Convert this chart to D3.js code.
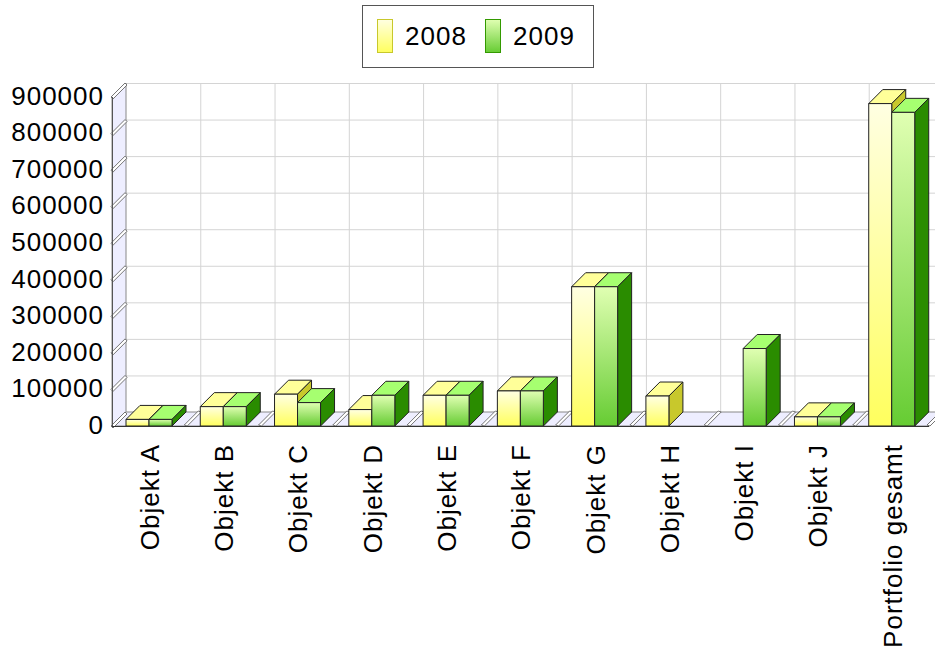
<!DOCTYPE html>
<html>
<head>
<meta charset="utf-8">
<script src="https://cdn.jsdelivr.net/npm/d3@7"></script>
<style>
  html, body { margin: 0; padding: 0; background: #fff; }
  svg { display: block; }
  text { font-family: "Liberation Sans", Arial, sans-serif; font-size: 26px; letter-spacing: 1px; fill: #000; }
</style>
</head>
<body>
<svg id="chart" width="935" height="650"></svg>
<script>
const categories = ["Objekt A", "Objekt B", "Objekt C", "Objekt D", "Objekt E", "Objekt F", "Objekt G", "Objekt H", "Objekt I", "Objekt J", "Portfolio gesamt"];
const values2008 = [18000, 53000, 87000, 45000, 84000, 96000, 381000, 82000, 0, 25000, 882000];
const values2009 = [18000, 53000, 64000, 84000, 84000, 96000, 381000, 0, 212000, 25000, 858000];
const seriesNames = ["2008", "2009"];
const yTicks = [0, 100000, 200000, 300000, 400000, 500000, 600000, 700000, 800000, 900000];

(function () {
const svg = d3.select("#chart");
const W = 935, H = 650;
const D = 14;                 // 3D depth offset
const pLeft = 112, pRight = 929, pBottom = 426, pTop = 97;

const x = d3.scaleBand().domain(categories).range([pLeft, pRight]);
const y = d3.scaleLinear().domain([0, 900000]).range([pBottom, pTop]);
const bw = x.bandwidth();
const barW = 23, barPad = 14;

const defs = svg.append("defs");
function grad(id, c0, c1) {
  const g = defs.append("linearGradient").attr("id", id).attr("x1", 0).attr("y1", 0).attr("x2", 0).attr("y2", 1);
  g.append("stop").attr("offset", "0%").attr("stop-color", c0);
  g.append("stop").attr("offset", "100%").attr("stop-color", c1);
}
grad("g2008", "#ffffe2", "#ffff5e");
grad("g2009", "#e0ffb2", "#66cc33");
const styles = [
  { front: "url(#g2008)", top: "#ffff99", side: "#c8c82c", swStroke: "#c8c82c" },
  { front: "url(#g2009)", top: "#a6ff70", side: "#2a8c00", swStroke: "#339900" }
];

defs.append("clipPath").attr("id", "clip").append("rect").attr("width", W).attr("height", H);
const g = svg.append("g").attr("clip-path", "url(#clip)");
const pts = arr => arr.map(p => p.join(",")).join(" ");

// back wall grid
const backL = pLeft + D, backR = pRight + D;
g.append("rect").attr("x", backL).attr("y", y(900000) - D).attr("width", backR - backL).attr("height", y(0) - y(900000)).attr("fill", "#fff");
g.selectAll("line.hgrid").data(yTicks).join("line")
  .attr("x1", backL).attr("x2", backR)
  .attr("y1", d => y(d) - D + 0.5).attr("y2", d => y(d) - D + 0.5)
  .attr("stroke", "#d4d4d4").attr("stroke-width", 1);
g.selectAll("line.vgrid").data(d3.range(1, categories.length + 1)).join("line")
  .attr("x1", i => pLeft + D + i * bw + 0.5).attr("x2", i => pLeft + D + i * bw + 0.5)
  .attr("y1", y(900000) - D).attr("y2", y(0) - D)
  .attr("stroke", "#d4d4d4").attr("stroke-width", 1);

// floor
g.append("polygon")
  .attr("points", pts([[pLeft, pBottom], [pRight, pBottom], [pRight + D, pBottom - D], [pLeft + D, pBottom - D]]))
  .attr("fill", "#eeeeff").attr("stroke", "#888").attr("stroke-width", 1);

// left wall
g.append("polygon")
  .attr("points", pts([[pLeft, pBottom], [pLeft, pTop], [pLeft + D, pTop - D], [pLeft + D, pBottom - D]]))
  .attr("fill", "#eeeeff").attr("stroke", "#888").attr("stroke-width", 1);

// wall ticks
g.selectAll("polygon.wtick").data(yTicks).join("polygon")
  .attr("points", d => {
    const fy = y(d);
    return pts([[pLeft - 1, fy], [pLeft + D - 1, fy - D], [pLeft + D + 1, fy - D + 2], [pLeft + 1, fy + 2]]);
  })
  .attr("fill", "#fff").attr("stroke", "#666").attr("stroke-width", 0.9);

// floor ticks
const floorTicks = d3.range(1, categories.length + 1).map(i => pLeft + i * bw);
g.selectAll("polygon.ftick").data(floorTicks).join("polygon")
  .attr("points", fx => pts([[fx - 2, pBottom - 1], [fx + D - 2, pBottom - D - 1], [fx + D + 1, pBottom - D], [fx + 1, pBottom]]))
  .attr("fill", "#fff").attr("stroke", "#666").attr("stroke-width", 0.9);

// bars
const series = [values2008, values2009];
categories.forEach((c, ci) => {
  series.forEach((vals, si) => {
    const v = vals[ci];
    if (!v) return;
    const x0 = x(c) + barPad + si * barW;
    const yt = y(v);
    const st = styles[si];
    const bar = g.append("g").attr("stroke", "#222").attr("stroke-width", 1).attr("stroke-linejoin", "round");
    bar.append("polygon")
      .attr("points", pts([[x0, yt], [x0 + D, yt - D], [x0 + barW + D, yt - D], [x0 + barW, yt]]))
      .attr("fill", st.top);
    bar.append("polygon")
      .attr("points", pts([[x0 + barW, yt], [x0 + barW + D, yt - D], [x0 + barW + D, y(0) - D], [x0 + barW, y(0)]]))
      .attr("fill", st.side);
    bar.append("rect").attr("x", x0).attr("y", yt).attr("width", barW).attr("height", y(0) - yt)
      .attr("fill", st.front);
  });
});

// front axis lines
g.append("line").attr("x1", pLeft).attr("x2", pRight).attr("y1", pBottom + 0.5).attr("y2", pBottom + 0.5).attr("stroke", "#333").attr("stroke-width", 1);
g.append("line").attr("x1", pLeft + 0.5).attr("x2", pLeft + 0.5).attr("y1", pTop).attr("y2", pBottom).attr("stroke", "#555").attr("stroke-width", 1);

// y axis labels
const yAxis = d3.axisLeft(y).tickValues(yTicks).tickFormat(d3.format("d")).tickSize(0).tickPadding(8);
const ya = svg.append("g").attr("transform", `translate(${pLeft},0)`).call(yAxis);
ya.select(".domain").remove();
ya.attr("font-size", null).attr("font-family", null);
ya.selectAll("text").attr("dy", "0.32em").attr("y", -1);

// x axis labels (rotated)
const xAxis = d3.axisBottom(x).tickSize(0);
const xa = svg.append("g").attr("transform", `translate(0,${pBottom})`).call(xAxis);
xa.select(".domain").remove();
xa.attr("font-size", null).attr("font-family", null);
xa.selectAll(".tick").attr("transform", d => `translate(${x(d) + barPad + barW},0)`);
xa.selectAll("text")
  .attr("transform", "rotate(-90)")
  .attr("text-anchor", "end")
  .attr("x", -18).attr("y", 0).attr("dy", "0.38em");

// legend
const lg = svg.append("g");
lg.append("rect").attr("x", 362.5).attr("y", 5.5).attr("width", 231).attr("height", 62)
  .attr("fill", "#fff").attr("stroke", "#555").attr("stroke-width", 1);
const legendX = [377, 485];
seriesNames.forEach((name, i) => {
  lg.append("rect").attr("x", legendX[i] + 0.5).attr("y", 19.5).attr("width", 15).attr("height", 33)
    .attr("fill", styles[i].front).attr("stroke", styles[i].swStroke).attr("stroke-width", 1);
  lg.append("text").attr("x", legendX[i] + 28).attr("y", 45).text(name);
});
})();
</script>
</body>
</html>
